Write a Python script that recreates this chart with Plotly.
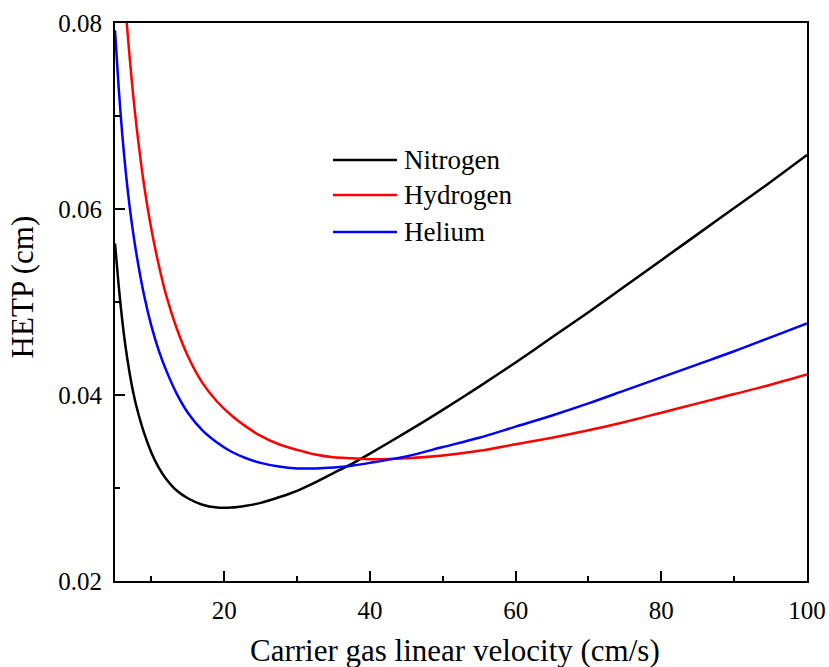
import plotly.graph_objects as go

# ---- data ----
series_names = ["Nitrogen", "Hydrogen", "Helium"]
series_colors = ["#000000", "#ff0000", "#0000ff"]

nitrogen_x = [5, 5.5, 6, 6.5, 7, 7.5, 8, 9, 10, 11, 12, 13.5, 15, 17, 19, 21, 23, 25,
              27.5, 30, 32.5, 35, 37.5, 40, 45, 50, 55, 60, 65, 70, 75, 80, 85, 90, 95, 100]
nitrogen_y = [0.0563, 0.0518, 0.0480, 0.0449, 0.0424, 0.0403, 0.0386, 0.0359, 0.0338,
              0.0322, 0.0310, 0.0297, 0.0289, 0.0282, 0.0279, 0.0279, 0.0281, 0.0284,
              0.0290, 0.0297, 0.0306, 0.0316, 0.0326, 0.0337, 0.0360, 0.0384, 0.0409,
              0.0435, 0.0462, 0.0489, 0.0517, 0.0545, 0.0573, 0.0601, 0.0629, 0.0658]

hydrogen_x = [6.6, 7, 7.5, 8, 9, 10, 11, 12, 13.5, 15, 17, 19, 21, 23, 25, 27.5, 30,
              32.5, 35, 37.5, 40, 45, 50, 55, 60, 65, 70, 75, 80, 85, 90, 95, 100]
hydrogen_y = [0.0801, 0.0764, 0.0722, 0.0686, 0.0625, 0.0578, 0.0540, 0.0508, 0.0471,
              0.0442, 0.0413, 0.0393, 0.0378, 0.0366, 0.0356, 0.0347, 0.0341, 0.0336,
              0.0333, 0.0332, 0.0331, 0.0332, 0.0335, 0.0340, 0.0347, 0.0354, 0.0362,
              0.0371, 0.0381, 0.0391, 0.0401, 0.0411, 0.0422]

helium_x = [5, 5.5, 6, 6.5, 7, 7.5, 8, 9, 10, 11, 12, 13.5, 15, 17, 19, 21, 23, 25,
            27.5, 30, 32.5, 35, 37.5, 40, 45, 50, 55, 60, 65, 70, 75, 80, 85, 90, 95, 100]
helium_y = [0.0792, 0.0731, 0.0680, 0.0638, 0.0603, 0.0574, 0.0549, 0.0507, 0.0474,
            0.0448, 0.0427, 0.0401, 0.0381, 0.0362, 0.0349, 0.0339, 0.0332, 0.0327,
            0.0323, 0.0321, 0.0321, 0.0322, 0.0324, 0.0327, 0.0334, 0.0344, 0.0354,
            0.0366, 0.0378, 0.0391, 0.0405, 0.0419, 0.0433, 0.0447, 0.0462, 0.0477]

x_tickvals = [20, 40, 60, 80, 100]
x_minor_tickvals = [10, 30, 50, 70, 90]
y_tickvals = [0.02, 0.04, 0.06, 0.08]
y_ticktext = ["0.02", "0.04", "0.06", "0.08"]
y_minor_tickvals = [0.03, 0.05, 0.07]

x_title = "Carrier gas linear velocity (cm/s)"
y_title = "HETP (cm)"

FONT = "Liberation Serif"

fig = go.Figure()
all_x = [nitrogen_x, hydrogen_x, helium_x]
all_y = [nitrogen_y, hydrogen_y, helium_y]
for name, color, xs, ys in zip(series_names, series_colors, all_x, all_y):
    fig.add_trace(go.Scatter(x=xs, y=ys, mode="lines", name=name,
                             line=dict(color=color, width=2.5, shape="spline", smoothing=0.8),
                             showlegend=False))

# manual legend (long line samples like the reference)
legend_y = [0.7545, 0.6918, 0.6254]
for name, color, ly in zip(series_names, series_colors, legend_y):
    fig.add_shape(type="line", xref="paper", yref="paper", x0=0.315, x1=0.4075,
                  y0=ly, y1=ly, line=dict(color=color, width=2.5))
    fig.add_annotation(xref="paper", yref="paper", x=0.415, y=ly, text=name,
                       showarrow=False, xanchor="left", yanchor="middle",
                       font=dict(family=FONT, size=27, color="black"))

# axis titles placed like the reference
fig.add_annotation(xref="paper", yref="paper", x=0.492, y=-0.1254, text=x_title,
                   showarrow=False, xanchor="center", yanchor="middle",
                   font=dict(family=FONT, size=31, color="black"))
fig.add_annotation(xref="paper", yref="paper", x=-0.1331, y=0.5278, text=y_title,
                   textangle=-90, showarrow=False, xanchor="center", yanchor="middle",
                   font=dict(family=FONT, size=31, color="black"))

axis_common = dict(showline=True, linecolor="black", linewidth=2, mirror=True,
                   ticks="inside", ticklen=10, tickwidth=2, tickcolor="black",
                   showgrid=False, zeroline=False,
                   tickfont=dict(family=FONT, size=25, color="black"))

fig.update_xaxes(range=[5, 100], tickvals=x_tickvals,
                 minor=dict(ticks="inside", ticklen=5, tickwidth=2, tickcolor="black",
                            tickvals=x_minor_tickvals),
                 ticklabelstandoff=6,
                 **axis_common)
fig.update_yaxes(range=[0.02, 0.08], tickvals=y_tickvals, ticktext=y_ticktext,
                 minor=dict(ticks="inside", ticklen=5, tickwidth=2, tickcolor="black",
                            tickvals=y_minor_tickvals),
                 ticklabelstandoff=6,
                 **axis_common)

fig.update_layout(width=829, height=667, margin=dict(l=115, r=22, t=23, b=86, autoexpand=False),
                  plot_bgcolor="white", paper_bgcolor="white",
                  font=dict(family=FONT, color="black"))

fig.write_html("out.html")
